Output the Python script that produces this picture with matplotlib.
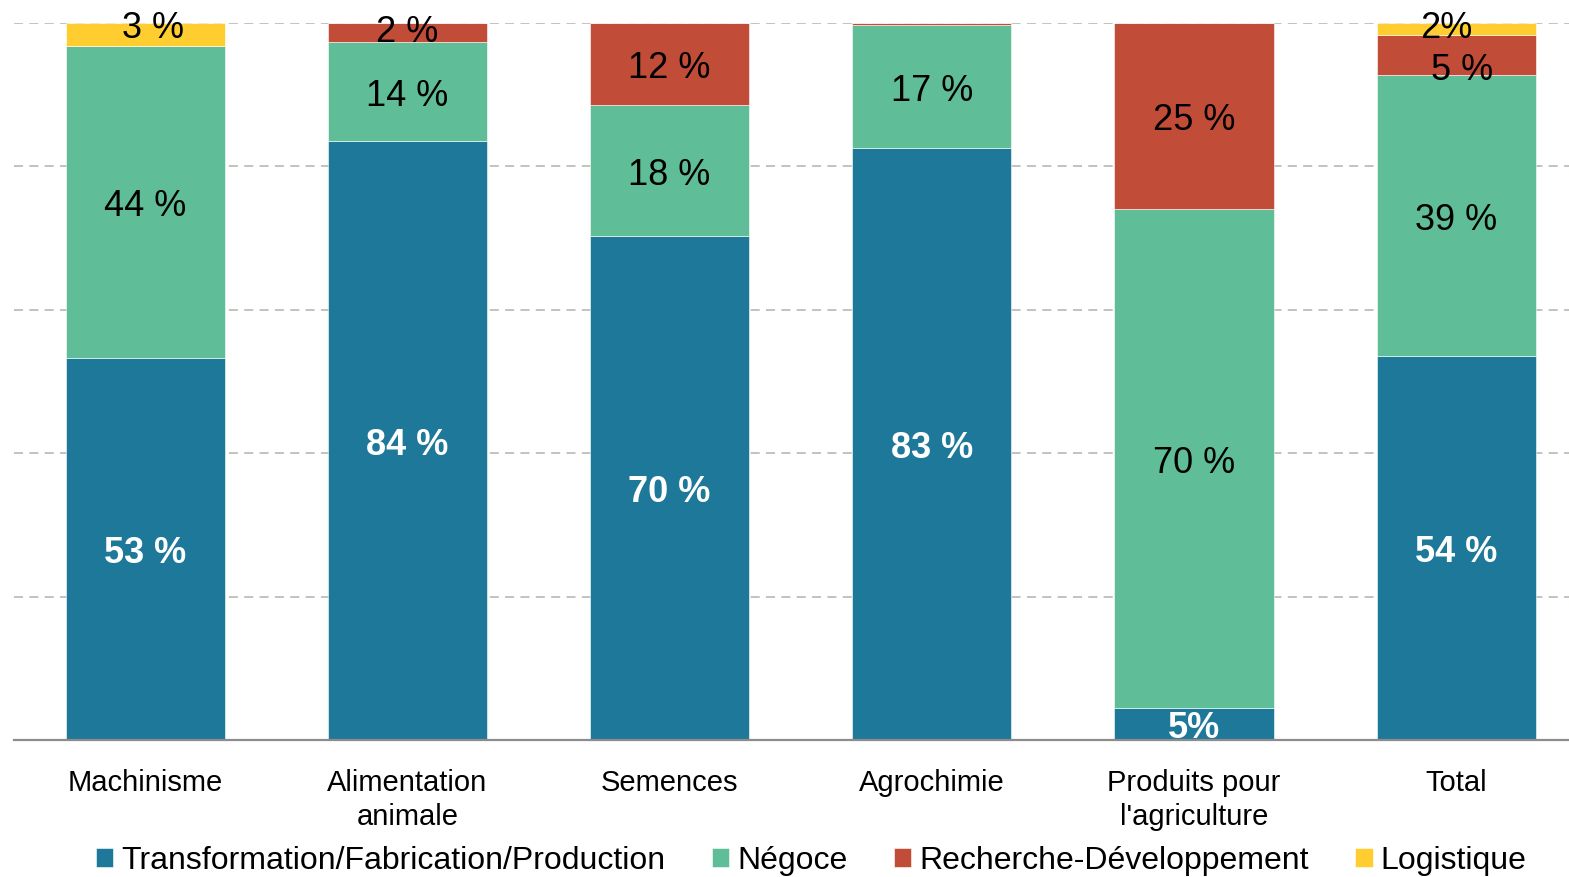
import matplotlib
matplotlib.use("Agg")
import matplotlib.pyplot as plt
import numpy as np

categories = ["Machinisme", "Alimentation\nanimale", "Semences", "Agrochimie",
              "Produits pour\nl'agriculture", "Total"]
series_names = ["Transformation/Fabrication/Production", "Négoce",
                "Recherche-Développement", "Logistique"]
transformation = [53.3, 83.6, 70.3, 82.6, 4.5, 53.6]
negoce = [43.5, 13.7, 18.3, 17.1, 69.6, 39.1]
recherche = [0.0, 2.7, 11.4, 0.3, 25.9, 5.6]
logistique = [3.2, 0.0, 0.0, 0.0, 0.0, 1.7]

labels_transformation = ["53 %", "84 %", "70 %", "83 %", "5%", "54 %"]
labels_negoce = ["44 %", "14 %", "18 %", "17 %", "70 %", "39 %"]
labels_recherche = ["", "2 %", "12 %", "", "25 %", "5 %"]
labels_logistique = ["3 %", "", "", "", "", "2%"]

colors = ["#1D7899", "#5FBD98", "#C14C38", "#FFCD2F"]

plt.rcParams['font.family'] = ['Liberation Sans', 'DejaVu Sans']

fig = plt.figure(figsize=(15.69, 8.77), dpi=100)
ax = fig.add_axes([14/1569, 1 - 740/877, 1 - 14/1569, (740 - 23)/877])

# small label nudges (pixels, x right / y down) for crowded top segments
nudges = {(3, 0): (8, -11), (2, 1): (0, -5), (3, 5): (-10, -6), (2, 5): (6, 10)}

x = np.arange(len(categories))
width = 0.607
series = [transformation, negoce, recherche, logistique]
label_sets = [labels_transformation, labels_negoce, labels_recherche, labels_logistique]
bottom = np.zeros(len(categories))
for i, (vals, lbls) in enumerate(zip(series, label_sets)):
    vals = np.array(vals)
    ax.bar(x, vals, width, bottom=bottom, color=colors[i], edgecolor="white",
           linewidth=0.4, label=series_names[i], zorder=2)
    for j, (v, l) in enumerate(zip(vals, lbls)):
        if l:
            dx, dy = nudges.get((i, j), (0, 0))
            off = (dx * 0.72, -(5 + dy) * 0.72)
            kw = dict(color="white", fontweight="bold") if i == 0 else dict(color="black")
            ax.annotate(l, (x[j], bottom[j] + v / 2), xytext=off,
                        textcoords="offset points", ha="center", va="center",
                        fontsize=26, zorder=3, **kw)
    bottom = bottom + vals

ax.set_xlim(-0.5, 5.43)
ax.set_ylim(0, 100)
ax.set_yticks([20, 40, 60, 80, 100])
ax.yaxis.grid(True, linestyle=(0, (5, 3.5)), color="#BBBFB5", linewidth=1.3, zorder=0)
ax.set_axisbelow(True)
ax.tick_params(axis="y", left=False, labelleft=False)
ax.set_xticks(x)
ax.set_xticklabels(categories, fontsize=21, linespacing=1.28)
ax.tick_params(axis="x", length=0, pad=21)
for s in ["top", "right", "left"]:
    ax.spines[s].set_visible(False)
ax.spines["bottom"].set_color("#8C8C8C")
ax.spines["bottom"].set_linewidth(1.6)
ax.spines["bottom"].set_zorder(4)

fig.legend(loc="center", bbox_to_anchor=(0.517, 1 - 861/877), ncol=4, frameon=False,
           fontsize=23, handlelength=0.55, handleheight=0.55, handletextpad=0.25,
           columnspacing=1.45, borderaxespad=0, borderpad=0)

fig.savefig("out.png", dpi=100)
